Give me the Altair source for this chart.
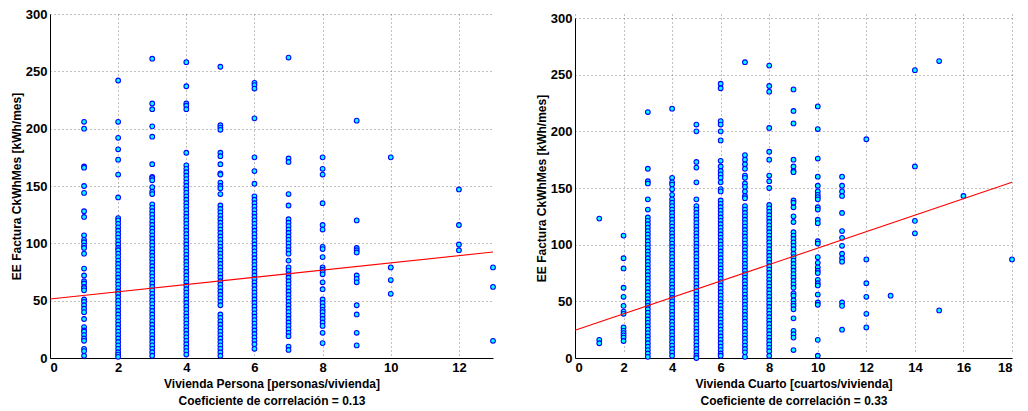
import altair as alt
import pandas as pd

# ---------------- Left panel: Vivienda Persona ----------------
per_1 = [206, 200, 167, 166, 150, 144, 128, 123, 107, 103, 101, 98, 96, 91, 78, 72, 67, 65, 62, 61, 59,
         51, 49, 46, 43, 40, 34, 27, 24, 23, 20, 17, 15, 8, 6, 2]
per_2 = [242, 206, 192, 182, 173, 160, 140, 122, 120, 117, 114, 111, 108, 105, 102, 99, 96, 94, 91, 88, 85,
         82, 79, 76, 73, 70, 67, 64, 61, 58, 56, 53, 50, 47, 44, 41, 38, 35, 32, 29, 26, 23, 20, 17, 14,
         11, 8, 5, 3, 1]
per_3 = [261, 222, 217, 202, 193, 169, 158, 157, 155, 149, 145, 143, 134, 131, 128, 125, 122, 119, 116, 113,
         110, 107, 104, 101, 98, 95, 92, 89, 86, 83, 80, 77, 74, 71, 68, 65, 62, 59, 56, 53, 50, 47, 44,
         41, 38, 35, 32, 29, 26, 23, 20, 17, 14, 11, 8, 5, 2]
per_4 = [258, 237, 222, 220, 217, 179, 168, 165, 162, 159, 156, 153, 150, 147, 144, 141, 138, 135, 132, 129,
         126, 123, 120, 117, 114, 111, 108, 105, 102, 99, 96, 93, 90, 87, 84, 81, 78, 75, 72, 69, 66, 63,
         60, 57, 54, 51, 48, 45, 42, 39, 36, 33, 30, 27, 24, 21, 18, 15, 12, 9, 6, 3]
per_5 = [254, 203, 201, 199, 179, 176, 169, 161, 160, 153, 150, 148, 143, 133, 130, 127, 124, 121, 118, 115,
         112, 109, 106, 103, 100, 97, 94, 91, 88, 85, 82, 79, 76, 73, 70, 67, 64, 61, 58, 55, 52, 49, 46,
         38, 35, 32, 29, 26, 23, 20, 17, 14, 11, 8, 5, 2]
per_6 = [240, 238, 235, 209, 175, 163, 152, 141, 138, 135, 132, 129, 126, 123, 120, 117, 114, 111, 108, 105,
         102, 99, 96, 93, 90, 87, 84, 81, 78, 75, 72, 69, 66, 63, 60, 57, 54, 51, 48, 45, 42, 39, 36, 33,
         30, 27, 24, 21, 18, 15, 12, 8]
per_7 = [262, 174, 171, 143, 133, 121, 118, 115, 112, 109, 106, 103, 100, 97, 94, 91, 85, 79, 76, 73, 70,
         67, 64, 61, 58, 55, 52, 49, 46, 43, 40, 37, 34, 31, 28, 25, 22, 19, 10, 7]
per_8 = [175, 165, 160, 135, 116, 112, 97, 95, 88, 79, 77, 75, 73, 66, 60, 51, 48, 45, 42, 40, 37, 34, 31,
         28, 22, 13]
per_9 = [207, 120, 96, 94, 92, 72, 69, 66, 46, 38, 22, 11]
per_10 = [175, 79, 68, 56]
per_12 = [147, 116, 99, 94]
per_13 = [79, 62, 15]

persona_cols = {1: per_1, 2: per_2, 3: per_3, 4: per_4, 5: per_5, 6: per_6, 7: per_7, 8: per_8,
                9: per_9, 10: per_10, 12: per_12, 13: per_13}
persona_fit_x = [0, 13]
persona_fit_y = [51.5, 92.4]

# ---------------- Right panel: Vivienda Cuarto ----------------
cua_1 = [123, 16, 13]
cua_2 = [108, 88, 79, 62, 54, 46, 41, 39, 27, 24, 22, 20, 18, 15]
cua_3 = [217, 167, 156, 154, 140, 131, 124, 121, 118, 115, 112, 109, 106, 103, 100, 97, 94, 91, 88, 85, 82,
         79, 76, 73, 70, 67, 64, 61, 58, 55, 52, 49, 46, 43, 40, 37, 34, 31, 28, 25, 22, 19, 16, 13, 10,
         7, 4, 1]
cua_4 = [220, 159, 155, 153, 149, 144, 140, 137, 134, 131, 128, 125, 122, 119, 116, 113, 110, 107, 104, 101,
         98, 95, 92, 89, 86, 83, 80, 77, 74, 71, 68, 65, 62, 59, 56, 53, 50, 47, 44, 41, 38, 35, 32, 29,
         26, 23, 20, 17, 14, 11, 8, 5, 2]
cua_5 = [206, 200, 173, 168, 155, 140, 134, 131, 128, 125, 122, 119, 116, 113, 110, 107, 104, 101, 98, 95,
         92, 89, 86, 83, 80, 77, 74, 71, 68, 65, 62, 59, 56, 53, 50, 47, 44, 41, 38, 35, 32, 29, 26, 23,
         20, 17, 14, 11, 8, 5, 2, 0]
cua_6 = [242, 238, 209, 206, 200, 192, 174, 169, 165, 162, 159, 155, 149, 147, 139, 136, 133, 130, 127, 124,
         121, 118, 115, 112, 109, 106, 103, 100, 97, 94, 91, 88, 85, 82, 79, 76, 73, 70, 67, 64, 61, 58,
         55, 52, 49, 46, 43, 40, 37, 34, 31, 28, 25, 22, 19, 16, 13, 10, 7, 4, 2]
cua_7 = [261, 179, 175, 171, 167, 161, 159, 154, 151, 147, 143, 141, 134, 131, 128, 125, 122, 119, 116, 113,
         110, 107, 104, 101, 98, 95, 92, 89, 86, 83, 80, 77, 74, 71, 68, 65, 62, 59, 56, 53, 50, 47, 44,
         41, 38, 35, 32, 29, 26, 23, 20, 17, 14, 11, 8, 5, 1]
cua_8 = [258, 240, 235, 203, 182, 175, 161, 156, 150, 135, 132, 129, 126, 123, 120, 117, 114, 111, 108, 105,
         102, 99, 96, 93, 90, 87, 84, 81, 78, 75, 72, 69, 66, 63, 60, 57, 54, 51, 48, 45, 42, 39, 36, 33,
         30, 27, 24, 21, 18, 15, 12, 9, 6, 2]
cua_9 = [237, 218, 207, 175, 169, 165, 164, 139, 137, 133, 125, 120, 111, 108, 105, 102, 99, 96, 92, 89, 86,
         83, 80, 77, 74, 71, 68, 65, 62, 57, 55, 51, 48, 46, 43, 35, 24, 21, 18, 7]
cua_10 = [222, 202, 176, 160, 152, 147, 144, 142, 140, 133, 131, 122, 119, 103, 101, 89, 84, 80, 77, 75, 69,
          66, 64, 56, 49, 47, 16, 2]
cua_11 = [160, 152, 147, 143, 128, 112, 106, 99, 92, 88, 85, 49, 46, 25]
cua_12 = [193, 87, 66, 54, 39, 27]
cua_13 = [55]
cua_14 = [254, 169, 121, 110]
cua_15 = [262, 42]
cua_16 = [143]
cua_18 = [87]

cuarto_cols = {1: cua_1, 2: cua_2, 3: cua_3, 4: cua_4, 5: cua_5, 6: cua_6, 7: cua_7, 8: cua_8, 9: cua_9,
               10: cua_10, 11: cua_11, 12: cua_12, 13: cua_13, 14: cua_14, 15: cua_15, 16: cua_16, 18: cua_18}
cuarto_fit_x = [0, 18]
cuarto_fit_y = [24.4, 155.0]

y_title = "EE Factura CkWhMes [kWh/mes]"
left_title = ["Vivienda Persona [personas/vivienda]", "Coeficiente de correlación = 0.13"]
right_title = ["Vivienda Cuarto [cuartos/vivienda]", "Coeficiente de correlación = 0.33"]
left_ticks = [0, 2, 4, 6, 8, 10, 12]
right_ticks = [0, 2, 4, 6, 8, 10, 12, 14, 16, 18]
y_ticks = [0, 50, 100, 150, 200, 250, 300]


def to_df(cols):
    rows = []
    for xv, ys in cols.items():
        for yv in ys:
            rows.append({"x": xv, "y": yv})
    return pd.DataFrame(rows)


FONT = "Liberation Sans"
H = 344


def panel(cols, fx, fy, xmax, xticks, xtitle, w, top_gap=0):
    df = to_df(cols)
    fit = pd.DataFrame({"x": fx, "y": fy})
    xs = alt.Scale(domain=[0, xmax], nice=False, zero=True)
    ys = alt.Scale(domain=[0, 300], nice=False, range=[H, top_gap])
    xax = alt.Axis(values=xticks, title=xtitle, grid=True, format="d")
    yax = alt.Axis(values=y_ticks, title=y_title, grid=True, format="d")
    pts = alt.Chart(df).mark_point(
        shape="circle", filled=True, fill="#00FFFF", stroke="#0000FF",
        strokeWidth=1.1, size=22, opacity=1
    ).encode(x=alt.X("x:Q", scale=xs, axis=xax), y=alt.Y("y:Q", scale=ys, axis=yax))
    line = alt.Chart(fit).mark_line(color="#FF0000", strokeWidth=1.1).encode(
        x=alt.X("x:Q", scale=xs), y=alt.Y("y:Q", scale=ys))
    return alt.layer(pts, line).properties(width=w, height=H)


left = panel(persona_cols, persona_fit_x, persona_fit_y, 13, left_ticks, left_title, 443)
right = panel(cuarto_cols, cuarto_fit_x, cuarto_fit_y, 18, right_ticks, right_title, 437, top_gap=4)

chart = alt.hconcat(left, right, spacing=37).properties(
    padding={"left": 10, "top": 8, "right": 5, "bottom": 5},
    background="white",
).configure_view(stroke=None).configure_axis(
    labelFont=FONT, labelFontSize=13, labelFontWeight="bold", labelColor="black",
    titleFont=FONT, titleFontSize=12, titleFontWeight="bold", titleColor="black",
    domainColor="black", domainWidth=1, ticks=False, labelPadding=3,
    gridColor="#777777", gridDash=[1, 3], gridWidth=1, gridOpacity=0.9,
).configure_axisX(titlePadding=4, titleLineHeight=17).configure_axisY(titlePadding=2)

chart.save("out.html", embed_options={"renderer": "svg", "actions": False})
